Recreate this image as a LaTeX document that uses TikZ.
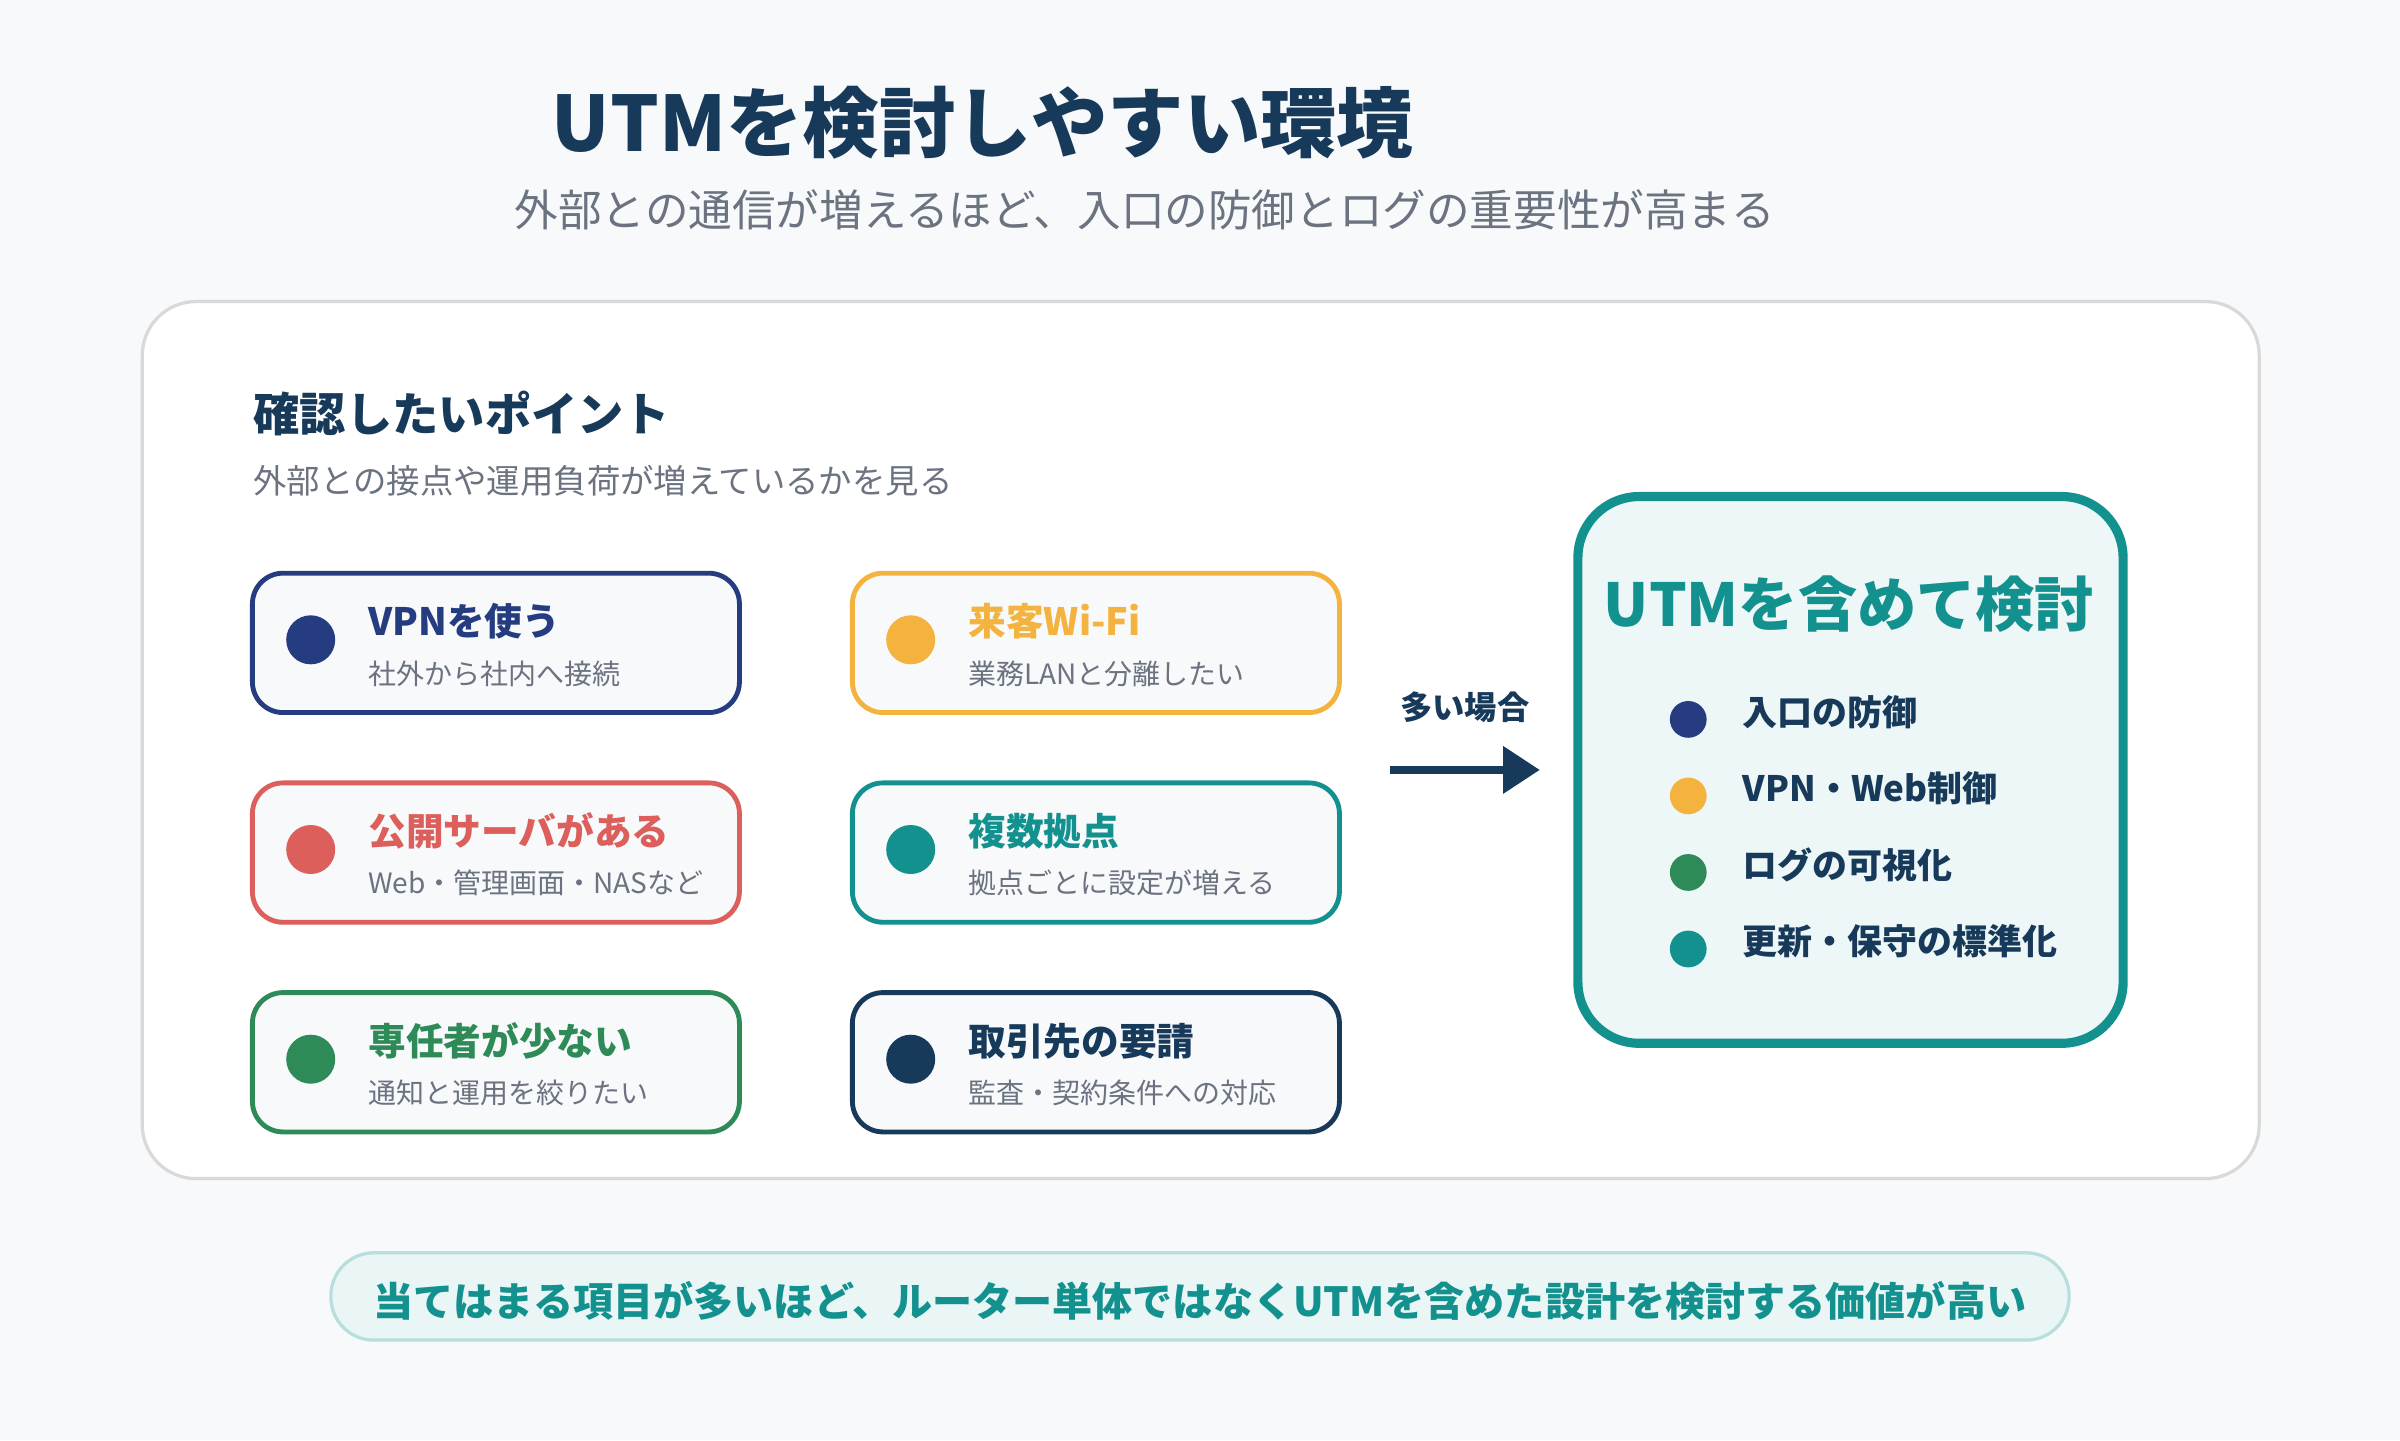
\documentclass[tikz,border=0pt]{standalone}
\usepackage{fontspec}
\setmainfont{Noto Sans CJK JP}
\usetikzlibrary{positioning, arrows.meta, calc}
\definecolor{bgc}{HTML}{F7F9FB}
\definecolor{ink}{HTML}{173A5A}
\definecolor{greyt}{HTML}{6B7280}
\definecolor{cnavy}{HTML}{263C80}
\definecolor{corange}{HTML}{F4B23E}
\definecolor{cred}{HTML}{DC5F5B}
\definecolor{cteal}{HTML}{13918E}
\definecolor{cgreen}{HTML}{2E8B57}
\definecolor{cdark}{HTML}{173A5A}
\tikzset{
	x=0.01cm, y=-0.01cm, % pixel grid of the reference
	card/.style={draw=#1, line width=0.9pt, rounded corners=0.2cm, fill=bgc,
		minimum width=3.18cm, minimum height=0.91cm, inner sep=0pt}, % one point card
	dot/.style={circle, fill=#1, minimum size=0.32cm, inner sep=0pt}, % coloured marker
	cardtitle/.style={anchor=west, font=\fontsize{7}{8}\selectfont\bfseries, text=#1, inner sep=0pt},
	cardsub/.style={anchor=west, font=\fontsize{5.2}{6}\selectfont, text=greyt, inner sep=0pt},
	item/.style={anchor=west, font=\fontsize{6.5}{7}\selectfont\bfseries, text=ink, inner sep=0pt},
}
\begin{document}
\begin{tikzpicture}
	\fill[bgc] (0,0) rectangle (1568,941);
	\useasboundingbox (0,0) rectangle (1568,941);

	\node[font=\fontsize{14.2}{16}\selectfont\bfseries, text=ink] (title) at (642,80) {UTMを検討しやすい環境};
	\node[font=\fontsize{8.1}{9}\selectfont, text=greyt] (subtitle) at (748,137) {外部との通信が増えるほど、入口の防御とログの重要性が高まる};

	% main panel
	\draw[draw=black!15, line width=0.6pt, fill=white, rounded corners=0.35cm] (93,197) rectangle (1476,770);
	\node[anchor=west, font=\fontsize{8.6}{10}\selectfont\bfseries, text=ink, inner sep=0pt] (head) at (165,270) {確認したいポイント};
	\node[anchor=west, font=\fontsize{6.2}{7}\selectfont, text=greyt, inner sep=0pt] (headsub) at (165,314) {外部との接点や運用負荷が増えているかを見る};

	% cards: x, y, colour, title, subtitle
	\foreach \cx/\cy/\col/\ttl/\sub [count=\i] in {
		324/420/cnavy/VPNを使う/社外から社内へ接続,
		716/420/corange/来客Wi-Fi/業務LANと分離したい,
		324/557/cred/公開サーバがある/Web・管理画面・NASなど,
		716/557/cteal/複数拠点/拠点ごとに設定が増える,
		324/694/cgreen/専任者が少ない/通知と運用を絞りたい,
		716/694/cdark/取引先の要請/監査・契約条件への対応}{
		\node[card=\col] (card\i) at (\cx,\cy) {};
		\node[dot=\col] (dot\i) at ($(\cx,\cy)+(-121,-2)$) {};
		\node[cardtitle=\col] (ttl\i) at ($(\cx,\cy)+(-84,-14)$) {\ttl};
		\node[cardsub] (sub\i) at ($(\cx,\cy)+(-84,20)$) {\sub};
	}

	% arrow to the result
	\node[font=\fontsize{6}{7}\selectfont\bfseries, text=ink] (many) at (957,462) {多い場合};
	\coordinate (arrs) at (908,503);
	\coordinate (arre) at (1006,503);
	\draw[-{Triangle[length=0.24cm, width=0.3cm]}, line width=1.4pt, ink] (arrs) -- (arre);

	% result box
	\node[draw=cteal, line width=1.7pt, fill=cteal!7, rounded corners=0.4cm,
		minimum width=3.56cm, minimum height=3.57cm, inner sep=0pt] (utm) at (1209,503) {};
	\node[font=\fontsize{11}{12}\selectfont\bfseries, text=cteal] (utmtitle) at (1208,395) {UTMを含めて検討};
	\foreach \yy/\col/\txt [count=\j] in {467/cnavy/入口の防御, 517/corange/VPN・Web制御, 567/cgreen/ログの可視化, 617/cteal/更新・保守の標準化}{
		\node[dot=\col, minimum size=0.24cm] (idot\j) at (1103,\yy+3) {};
		\node[item] (item\j) at (1138,\yy-2) {\txt};
	}

	% bottom note
	\node[draw=cteal!30, line width=0.6pt, fill=cteal!9, rounded corners=0.28cm,
		minimum width=11.35cm, minimum height=0.57cm] (note) at (784,847) {};
	\node[font=\fontsize{7.45}{8}\selectfont\bfseries, text=cteal] (notetxt) at (784,850) {当てはまる項目が多いほど、ルーター単体ではなくUTMを含めた設計を検討する価値が高い};
\end{tikzpicture}
\end{document}
